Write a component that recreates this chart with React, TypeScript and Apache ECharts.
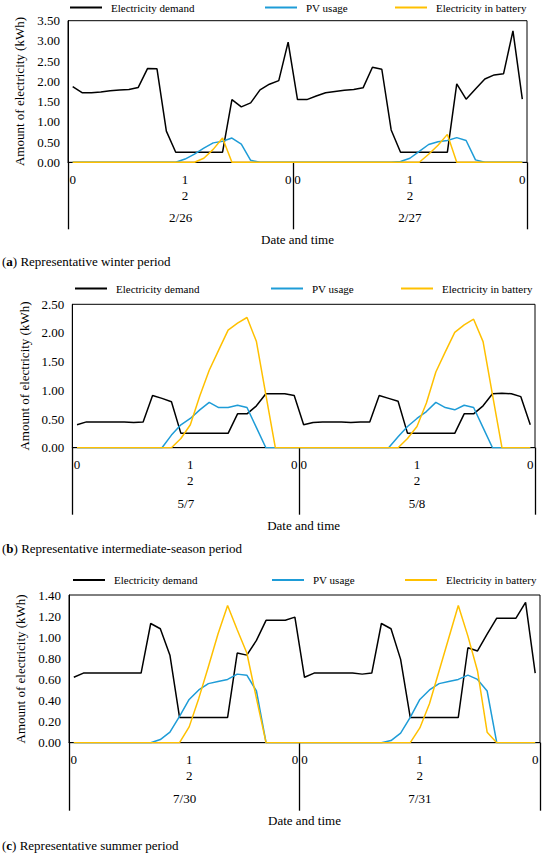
import React, { useEffect, useRef } from "react";
import * as echarts from "echarts";

// ---------- categories / tick labels ----------
const day1Hours = ["0","1","2","3","4","5","6","7","8","9","10","11","12","13","14","15","16","17","18","19","20","21","22","23"];
const day2Hours = ["0","1","2","3","4","5","6","7","8","9","10","11","12","13","14","15","16","17","18","19","20","21","22","23","24"];
const categories = [...day1Hours.map((h) => "d1-" + h), ...day2Hours.map((h) => "d2-" + h)];
const tickIndex = [0, 12, 23, 24, 36, 48];
const tickText = ["0", "12", "0", "0", "12", "0"];
const dayBoundaryIndex = [0, 24];
const dateLabelIndex = [12, 36];

const winterDates = ["2/26", "2/27"];
const midDates = ["5/7", "5/8"];
const summerDates = ["7/30", "7/31"];

// ---------- (a) winter ----------
const winterDemand1 = [1.87, 1.72, 1.72, 1.74, 1.77, 1.79, 1.80, 1.85, 2.32, 2.31, 0.77, 0.25, 0.25, 0.25, 0.25, 0.25, 0.25, 1.55, 1.37, 1.47, 1.79, 1.93, 2.02, 2.97];
const winterDemand2 = [1.55, 1.55, 1.64, 1.72, 1.75, 1.78, 1.80, 1.84, 2.35, 2.30, 0.80, 0.25, 0.25, 0.25, 0.25, 0.25, 0.25, 1.94, 1.56, 1.81, 2.06, 2.16, 2.19, 3.25, 1.56];
const winterPv1 = [0, 0, 0, 0, 0, 0, 0, 0, 0, 0, 0, 0, 0.08, 0.2, 0.35, 0.48, 0.52, 0.6, 0.45, 0.05, 0, 0, 0, 0];
const winterPv2 = [0, 0, 0, 0, 0, 0, 0, 0, 0, 0, 0, 0.02, 0.1, 0.27, 0.44, 0.51, 0.54, 0.61, 0.54, 0.06, 0, 0, 0, 0, 0];
const winterBat1 = [0, 0, 0, 0, 0, 0, 0, 0, 0, 0, 0, 0, 0, 0, 0.1, 0.32, 0.6, 0, 0, 0, 0, 0, 0, 0];
const winterBat2 = [0, 0, 0, 0, 0, 0, 0, 0, 0, 0, 0, 0, 0, 0, 0.2, 0.42, 0.69, 0, 0, 0, 0, 0, 0, 0, 0];

// ---------- (b) intermediate season ----------
const midDemand1 = [0.40, 0.45, 0.45, 0.45, 0.45, 0.45, 0.44, 0.45, 0.91, 0.86, 0.80, 0.25, 0.25, 0.25, 0.25, 0.25, 0.25, 0.59, 0.59, 0.73, 0.94, 0.94, 0.94, 0.91];
const midDemand2 = [0.40, 0.44, 0.45, 0.45, 0.45, 0.44, 0.45, 0.45, 0.91, 0.86, 0.81, 0.25, 0.25, 0.25, 0.25, 0.25, 0.25, 0.59, 0.59, 0.73, 0.94, 0.95, 0.94, 0.89, 0.40];
const midPv1 = [0, 0, 0, 0, 0, 0, 0, 0, 0, 0, 0.22, 0.40, 0.51, 0.66, 0.79, 0.70, 0.70, 0.74, 0.70, 0.35, 0, 0, 0, 0];
const midPv2 = [0, 0, 0, 0, 0, 0, 0, 0, 0, 0, 0.19, 0.37, 0.51, 0.63, 0.79, 0.70, 0.66, 0.74, 0.70, 0.35, 0, 0, 0, 0, 0];
const midBat1 = [0, 0, 0, 0, 0, 0, 0, 0, 0, 0, 0, 0.16, 0.40, 0.90, 1.35, 1.70, 2.05, 2.17, 2.27, 1.85, 0.92, 0, 0, 0];
const midBat2 = [0, 0, 0, 0, 0, 0, 0, 0, 0, 0, 0, 0.16, 0.37, 0.78, 1.32, 1.67, 2.01, 2.14, 2.24, 1.85, 0.92, 0, 0, 0, 0];

// ---------- (c) summer ----------
const sumDemand1 = [0.62, 0.66, 0.66, 0.66, 0.66, 0.66, 0.66, 0.66, 1.13, 1.08, 0.83, 0.24, 0.24, 0.24, 0.24, 0.24, 0.24, 0.85, 0.83, 0.97, 1.16, 1.16, 1.16, 1.19];
const sumDemand2 = [0.62, 0.66, 0.66, 0.66, 0.66, 0.66, 0.65, 0.66, 1.13, 1.08, 0.79, 0.24, 0.24, 0.24, 0.24, 0.24, 0.24, 0.90, 0.87, 1.03, 1.18, 1.18, 1.18, 1.33, 0.66];
const sumPv1 = [0, 0, 0, 0, 0, 0, 0, 0, 0, 0.03, 0.10, 0.25, 0.41, 0.50, 0.56, 0.58, 0.60, 0.65, 0.64, 0.49, 0, 0, 0, 0];
const sumPv2 = [0, 0, 0, 0, 0, 0, 0, 0, 0, 0.02, 0.09, 0.24, 0.41, 0.50, 0.56, 0.58, 0.60, 0.64, 0.60, 0.49, 0, 0, 0, 0, 0];
const sumBat1 = [0, 0, 0, 0, 0, 0, 0, 0, 0, 0, 0, 0, 0.15, 0.42, 0.72, 1.03, 1.30, 1.07, 0.85, 0.42, 0, 0, 0, 0];
const sumBat2 = [0, 0, 0, 0, 0, 0, 0, 0, 0, 0, 0, 0, 0.14, 0.37, 0.68, 0.99, 1.30, 1.01, 0.68, 0.10, 0, 0, 0, 0, 0];

const seriesNames = ["Electricity demand", "PV usage", "Electricity in battery"];
const seriesColors = ["#000000", "#1E9CD7", "#FFC000"];

const FONT = "Liberation Serif, Times New Roman, serif";

const panels = [
  {
    grid: { left: 68, top: 20.7, right: 23, bottom: 697.7 },
    yMax: 3.5, yStep: 0.5, dates: winterDates,
    data: [[...winterDemand1, ...winterDemand2], [...winterPv1, ...winterPv2], [...winterBat1, ...winterBat2]],
    legendTop: 2, legendLeft: [70, 265, 395],
    caption: ["a", ") Representative winter period"], captionY: 261.7, tickLen: 67,
  },
  {
    grid: { left: 72.3, top: 304.3, right: 15, bottom: 412.3 },
    yMax: 2.5, yStep: 0.5, dates: midDates,
    data: [[...midDemand1, ...midDemand2], [...midPv1, ...midPv2], [...midBat1, ...midBat2]],
    legendTop: 283, legendLeft: [75, 271, 401],
    caption: ["b", ") Representative intermediate-season period"], captionY: 548, tickLen: 67,
  },
  {
    grid: { left: 69, top: 595, right: 10, bottom: 117.3 },
    yMax: 1.4, yStep: 0.2, dates: summerDates,
    data: [[...sumDemand1, ...sumDemand2], [...sumPv1, ...sumPv2], [...sumBat1, ...sumBat2]],
    legendTop: 574.5, legendLeft: [73, 272, 405],
    caption: ["c", ") Representative summer period"], captionY: 845, tickLen: 68,
  },
];

function buildOption() {
  const grid: any[] = [];
  const xAxis: any[] = [];
  const yAxis: any[] = [];
  const series: any[] = [];
  const legend: any[] = [];
  const graphic: any[] = [];

  panels.forEach((p, pi) => {
    grid.push({ ...p.grid, show: true, borderColor: "#000", borderWidth: 1, backgroundColor: "transparent" });
    xAxis.push({
      type: "category",
      gridIndex: pi,
      data: categories,
      boundaryGap: true,
      axisLine: { show: true, lineStyle: { color: "#000", width: 1 } },
      axisTick: {
        show: true,
        length: p.tickLen,
        interval: (i: number) => dayBoundaryIndex.includes(i),
        lineStyle: { color: "#000", width: 1.3 },
      },
      axisLabel: {
        interval: (i: number) => tickIndex.includes(i),
        formatter: (_v: string, i: number) => {
          const k = tickIndex.indexOf(i);
          return k >= 0 ? tickText[k].split("").join("\n") : "";
        },
        color: "#000",
        fontFamily: FONT,
        fontSize: 13,
        lineHeight: 16,
        margin: 9,
      },
      splitLine: { show: false },
    });
    xAxis.push({
      type: "category",
      gridIndex: pi,
      data: categories,
      boundaryGap: true,
      position: "bottom",
      axisLine: { show: false },
      axisTick: { show: false },
      splitLine: { show: false },
      axisLabel: {
        interval: (i: number) => dateLabelIndex.includes(i),
        formatter: (_v: string, i: number) => {
          const k = dateLabelIndex.indexOf(i);
          if (k === 0) return "{s|" + p.dates[0] + "}";
          if (k === 1) return p.dates[1];
          return "";
        },
        color: "#000",
        fontFamily: FONT,
        fontSize: 13,
        margin: 49,
        rich: { s: { padding: [0, 9, 0, 0], fontFamily: FONT, fontSize: 13, color: "#000" } },
      },
      name: "Date and time",
      nameLocation: "middle",
      nameGap: 71,
      nameTextStyle: { color: "#000", fontFamily: FONT, fontSize: 13 },
    });
    yAxis.push({
      type: "value",
      gridIndex: pi,
      min: 0,
      max: p.yMax,
      interval: p.yStep,
      axisLine: { show: true, lineStyle: { color: "#000", width: 1 } },
      axisTick: { show: false },
      splitLine: { show: false },
      axisLabel: {
        formatter: (v: number) => v.toFixed(2),
        color: "#000",
        fontFamily: FONT,
        fontSize: 13,
        margin: 8,
      },
      name: "Amount of electricity (kWh)",
      nameLocation: "middle",
      nameGap: 40,
      nameTextStyle: { color: "#000", fontFamily: FONT, fontSize: 13 },
    });
    seriesNames.forEach((name, si) => {
      series.push({
        name,
        type: "line",
        xAxisIndex: pi * 2,
        yAxisIndex: pi,
        data: p.data[si],
        showSymbol: false,
        symbol: "none",
        lineStyle: { color: seriesColors[si], width: 1.5 },
        itemStyle: { color: seriesColors[si] },
        z: 2 + si,
      });
      legend.push({
        data: [name],
        left: p.legendLeft[si],
        top: p.legendTop,
        padding: 0,
        icon: "rect",
        itemWidth: 32,
        itemHeight: 2,
        selectedMode: false,
        textStyle: { color: "#000", fontFamily: FONT, fontSize: 11, padding: [0, 0, 0, 4] },
      });
    });
    graphic.push({
      type: "text",
      x: 2,
      y: p.captionY,
      style: {
        text: "({b|" + p.caption[0] + "}" + p.caption[1],
        fill: "#000",
        fontFamily: FONT,
        fontSize: 13,
        verticalAlign: "middle",
        rich: { b: { fontWeight: "bold", fontFamily: FONT, fontSize: 13, fill: "#000" } },
      },
    });
  });

  return {
    animation: false,
    backgroundColor: "#fff",
    grid,
    xAxis,
    yAxis,
    series,
    legend,
    graphic,
  };
}

export default function App() {
  const ref = useRef<HTMLDivElement>(null);
  useEffect(() => {
    if (!ref.current) return;
    const chart = echarts.init(ref.current, null, { renderer: "svg" });
    chart.setOption(buildOption());
    return () => chart.dispose();
  }, []);
  return (
    <div
      ref={ref}
      style={{ position: "absolute", left: 0, top: 0, width: 550, height: 860, background: "#fff" }}
    />
  );
}
